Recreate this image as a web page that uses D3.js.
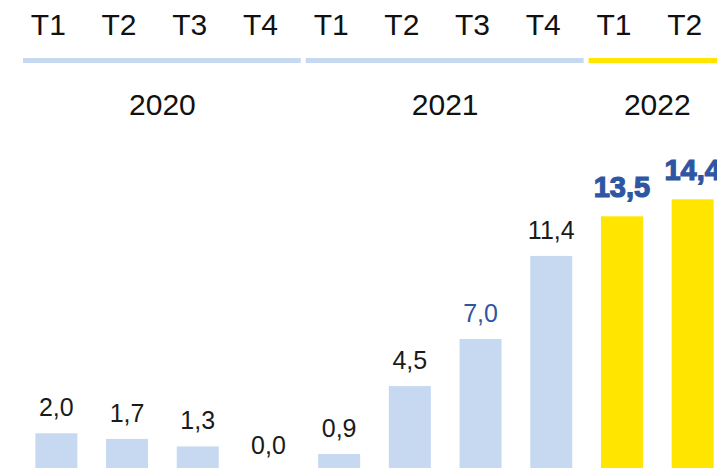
<!DOCTYPE html>
<html>
<head>
<meta charset="utf-8">
<script src="https://cdn.jsdelivr.net/npm/d3@7"></script>
<style>
  body { margin: 0; background: #fff; }
  svg { display: block; font-family: "Liberation Sans", Arial, sans-serif; }
</style>
</head>
<body>
<svg class="quarterChart"></svg>
<script>
// data
var quarters = ["T1", "T2", "T3", "T4", "T1", "T2", "T3", "T4", "T1", "T2"];
var quarterYears = ["2020", "2020", "2020", "2020", "2021", "2021", "2021", "2021", "2022", "2022"];
var values = [2.0, 1.7, 1.3, 0.0, 0.9, 4.5, 7.0, 11.4, 13.5, 14.4];
var yearLabels = ["2020", "2021", "2022"];

var drawQuarterChart = function()
{
  var screen = { //the size of svg
    width: 717,
    height: 468
  }

  var margins = {
    left: 21,
    right: -11, // last 2022 band runs past the edge
    baseline: 471
  }

  var blue = "#c6d9f1";
  var yellow = "#ffe500";
  var darkBlue = "#2f56a3";

  var fmt = function(v) { return d3.format(".1f")(v).replace(".", ","); };

  var xScale = d3.scaleBand()
                 .domain(d3.range(values.length))
                 .range([margins.left, screen.width - margins.right])
                 .paddingInner(0.406)
                 .paddingOuter(0.203);

  var yScale = d3.scaleLinear()
                 .domain([0, 15])
                 .range([margins.baseline, margins.baseline - 283]);

  var svg = d3.select(".quarterChart")
              .attr("width", screen.width)
              .attr("height", screen.height);

  var step = xScale.step();
  var gap = (step - xScale.bandwidth()) / 2;

  var isNew = function(i) { return quarterYears[i] == "2022"; };

  //bars
  svg.append("g")
     .classed("bars", true)
     .selectAll("rect")
     .data(values)
     .enter()
     .append("rect")
     .attr("x", function(d, i) { return xScale(i); })
     .attr("y", function(d) { return yScale(d); })
     .attr("width", xScale.bandwidth())
     .attr("height", function(d) { return yScale(0) - yScale(d); })
     .attr("fill", function(d, i) { return isNew(i) ? yellow : blue; });

  //value labels
  svg.append("g")
     .classed("textAbove", true)
     .selectAll("text")
     .data(values)
     .enter()
     .append("text")
     .attr("x", function(d, i) { return xScale(i) + xScale.bandwidth() / 2; })
     .attr("y", function(d, i) { return Math.min(yScale(d) - (isNew(i) ? 19 : 17), 461); })
     .attr("text-anchor", "middle")
     .attr("font-size", function(d, i) { return isNew(i) ? 29 : 25; })
     .attr("font-weight", function(d, i) { return isNew(i) ? "bold" : "normal"; })
     .attr("fill", function(d, i) { return (isNew(i) || i == 6) ? darkBlue : "#1a1a1a"; })
     .attr("stroke", function(d, i) { return isNew(i) ? darkBlue : "none"; })
     .attr("stroke-width", 1.2)
     .text(function(d) { return fmt(d); });

  //quarter labels on top
  svg.append("g")
     .classed("quarters", true)
     .selectAll("text")
     .data(quarters)
     .enter()
     .append("text")
     .attr("x", function(d, i) { return xScale(i) + xScale.bandwidth() / 2 - 8; })
     .attr("y", 35)
     .attr("text-anchor", "middle")
     .attr("font-size", 30)
     .attr("fill", "#111")
     .text(function(d) { return d; });

  //year groups
  var groups = yearLabels.map(function(y) {
    var idx = d3.range(values.length).filter(function(i) { return quarterYears[i] == y; });
    return {
      year: y,
      x0: xScale(idx[0]) - gap,
      x1: xScale(idx[idx.length - 1]) + xScale.bandwidth() + gap
    };
  });

  svg.append("g")
     .classed("yearLines", true)
     .selectAll("line")
     .data(groups)
     .enter()
     .append("line")
     .attr("x1", function(d) { return d.x0 + 2; })
     .attr("x2", function(d) { return d.x1 - 3; })
     .attr("y1", 60.5)
     .attr("y2", 60.5)
     .attr("stroke", function(d) { return d.year == "2022" ? yellow : blue; })
     .attr("stroke-width", 5);

  svg.append("g")
     .classed("years", true)
     .selectAll("text")
     .data(groups)
     .enter()
     .append("text")
     .attr("x", function(d) { return (d.x0 + d.x1) / 2; })
     .attr("y", 115)
     .attr("text-anchor", "middle")
     .attr("font-size", 30)
     .attr("fill", "#111")
     .text(function(d) { return d.year; });
}

drawQuarterChart();
</script>
</body>
</html>
